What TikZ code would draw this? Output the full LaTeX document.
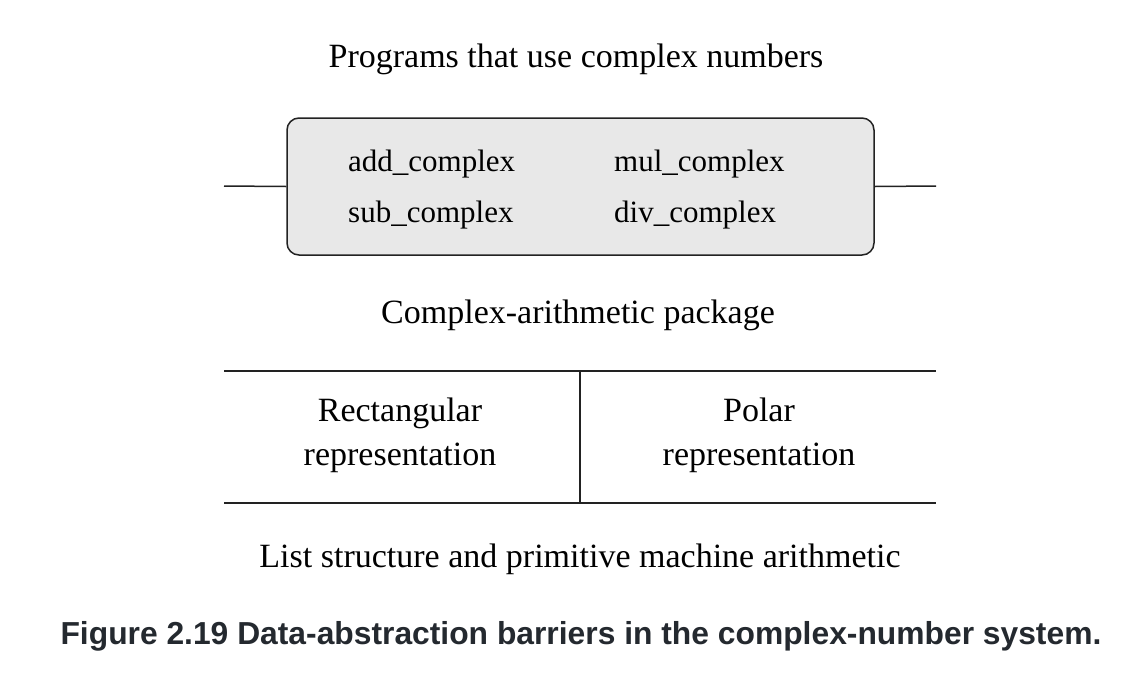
\documentclass[tikz,border=0pt]{standalone}
\usepackage{fontspec}
\setmainfont{Liberation Serif}
\newfontfamily\capfont{Liberation Sans}
\definecolor{boxfill}{HTML}{E8E8E8}
\definecolor{linecol}{HTML}{222222}
\definecolor{capcol}{HTML}{24292F}
\begin{document}
\begin{tikzpicture}[x=1pt,y=-1pt,
  lbl/.style={inner sep=0pt, font=\fontsize{34}{44}\selectfont, text=black},
  fn/.style={inner sep=0pt, anchor=west, font=\fontsize{31}{36}\selectfont},
  barrier/.style={draw=linecol, line width=1.5pt},
  pkg/.style={draw=linecol, line width=1.5pt, fill=boxfill, rounded corners=12pt}]
\useasboundingbox (0,0) rectangle (1126,678);
\node[lbl] (prog) at (576,59) {Programs that use complex numbers};
\node[pkg, minimum width=587pt, minimum height=137pt, inner sep=0pt] (box) at (580.5,186.5) {};
\coordinate (l1) at (224,186);
\coordinate (r1) at (936,186);
\draw[barrier] (l1) -- (box.west);
\draw[barrier] (box.east) -- (r1);
\node[fn] (add) at (348,164) {add\_complex};
\node[fn] (sub) at (348,215) {sub\_complex};
\node[fn] (mul) at (614,164) {mul\_complex};
\node[fn] (div) at (614,215) {div\_complex};
\node[lbl] (cap1) at (578,315) {Complex-arithmetic package};
\coordinate (ta) at (224,371);
\coordinate (tb) at (936,371);
\coordinate (ba) at (224,503);
\coordinate (bb) at (936,503);
\coordinate (vt) at (580,371);
\coordinate (vb) at (580,503);
\draw[barrier] (ta) -- (tb);
\draw[barrier] (ba) -- (bb);
\draw[barrier] (vt) -- (vb);
\node[lbl, align=center] (rect) at (400,435) {Rectangular\\representation};
\node[lbl, align=center] (polar) at (759,435) {Polar\\representation};
\node[lbl] (list) at (580,559) {List structure and primitive machine arithmetic};
\node[inner sep=0pt, font=\capfont\bfseries\fontsize{31.8}{36}\selectfont, text=capcol] (caption) at (581,636) {Figure 2.19 Data-abstraction barriers in the complex-number system.};
\end{tikzpicture}
\end{document}
